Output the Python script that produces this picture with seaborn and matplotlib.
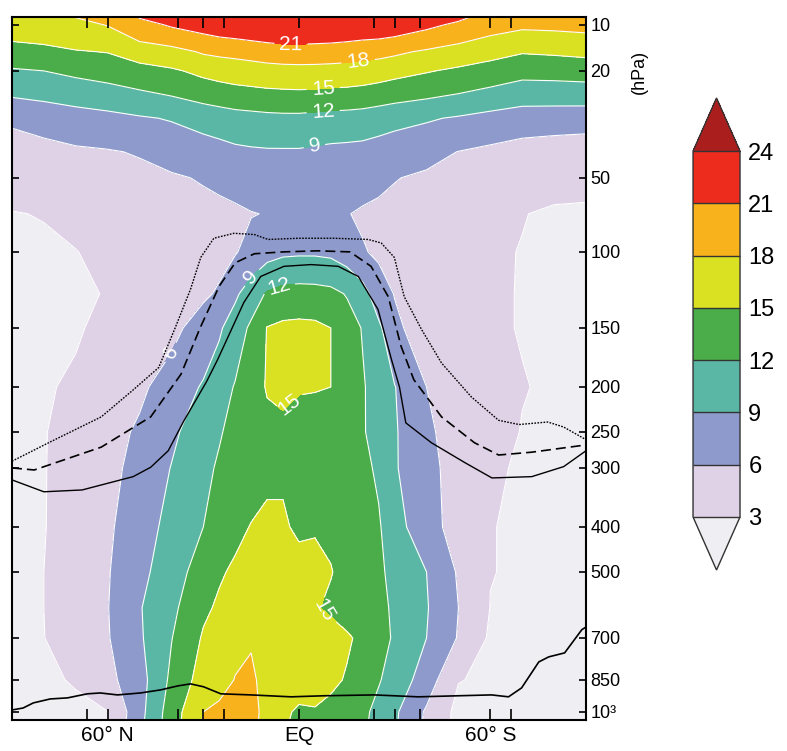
import numpy as np
import matplotlib
matplotlib.use("Agg")
from matplotlib import pyplot as plt
from matplotlib.ticker import FixedLocator, FixedFormatter, NullFormatter
import seaborn as sns

# ------------------------------------------------------------
#     values
# ------------------------------------------------------------

lats = [90, 80, 70, 60, 50, 40, 30, 25, 20, 15, 10, 5, 0, -5, -10, -15, -20, -25, -30, -40, -50, -60, -70, -80, -90]
plevs = [9, 10, 15, 20, 30, 40, 50, 70, 100, 125, 150, 200, 250, 300, 400, 500, 600, 700, 850, 1000, 1050]

# one row per pressure level, one column per latitude (90N ... 90S)
field = [
    [17.4, 17.8, 18.0, 18.9, 21.1, 22.3, 23.0, 23.4, 23.6, 23.7, 23.8, 23.8, 23.8, 23.8, 23.8, 23.7, 23.7, 23.6, 23.4, 22.7, 21.5, 19.9, 19.3, 19.4, 19.6],
    [16.7, 17.0, 17.3, 18.1, 20.0, 21.3, 22.1, 22.6, 22.9, 23.2, 23.4, 23.5, 23.5, 23.5, 23.4, 23.2, 23.0, 22.9, 22.6, 21.6, 20.5, 19.1, 18.5, 18.6, 18.8],
    [13.7, 14.1, 14.8, 15.1, 16.5, 17.0, 18.3, 18.6, 18.8, 19.1, 19.5, 19.8, 19.8, 19.7, 19.6, 19.4, 19.1, 18.9, 18.5, 17.6, 16.7, 16.0, 15.2, 15.4, 15.7],
    [11.7, 12.0, 12.6, 13.1, 13.8, 14.6, 15.7, 16.1, 16.4, 16.6, 16.8, 16.9, 17.0, 17.0, 16.9, 16.8, 16.6, 16.3, 15.9, 15.2, 14.5, 13.7, 12.9, 13.0, 13.2],
    [6.4, 7.0, 7.6, 8.1, 8.7, 9.2, 10.0, 10.4, 10.8, 11.0, 11.2, 11.3, 11.3, 11.1, 10.9, 10.8, 10.6, 10.2, 9.8, 9.3, 8.7, 8.0, 7.4, 7.3, 7.2],
    [4.9, 5.2, 5.6, 5.8, 6.2, 7.0, 7.7, 8.0, 8.4, 8.6, 8.7, 8.7, 8.7, 8.5, 8.3, 8.2, 8.1, 7.8, 7.5, 6.8, 5.95, 5.4, 4.9, 4.6, 4.4],
    [4.0, 4.4, 4.8, 5.0, 5.3, 5.7, 6.2, 6.4, 6.6, 7.2, 7.3, 7.6, 7.8, 7.7, 7.5, 7.0, 6.9, 6.5, 6.1, 5.6, 5.2, 4.8, 4.5, 4.0, 3.9],
    [2.9, 3.1, 3.5, 4.1, 4.4, 4.8, 5.2, 5.5, 5.7, 5.9, 6.1, 7.0, 7.2, 7.2, 7.0, 6.1, 5.7, 5.5, 5.3, 4.8, 4.4, 4.0, 3.1, 2.6, 2.5],
    [2.3, 2.6, 2.95, 3.5, 4.0, 4.5, 5.0, 5.3, 5.8, 7.0, 8.0, 8.5, 8.6, 8.6, 8.4, 7.6, 6.2, 5.6, 5.2, 4.5, 3.8, 3.4, 2.9, 2.6, 2.4],
    [2.2, 2.4, 2.7, 3.1, 4.0, 4.7, 5.6, 6.3, 8.5, 10.5, 12.3, 13.0, 13.2, 13.1, 12.8, 11.8, 10.2, 7.2, 5.9, 4.9, 4.2, 3.3, 2.9, 2.6, 2.4],
    [2.2, 2.4, 2.8, 3.5, 4.4, 5.3, 7.2, 8.6, 10.5, 12.5, 15.1, 15.6, 15.7, 15.6, 15.0, 13.5, 11.8, 9.6, 6.6, 4.5, 3.9, 3.3, 2.9, 2.6, 2.4],
    [2.4, 2.8, 3.3, 4.5, 5.5, 7.2, 9.3, 10.7, 12.2, 13.8, 15.2, 15.3, 15.1, 15.1, 15.0, 13.6, 12.3, 10.5, 9.1, 6.0, 4.6, 3.6, 3.1, 2.7, 2.5],
    [2.4, 2.9, 3.8, 5.0, 6.4, 8.4, 10.7, 11.8, 12.7, 13.5, 14.3, 14.7, 14.5, 14.2, 13.8, 13.0, 12.3, 10.6, 9.3, 6.4, 5.0, 4.0, 2.9, 2.6, 2.5],
    [2.4, 2.9, 4.0, 5.3, 6.8, 9.1, 11.4, 12.3, 13.2, 14.0, 14.6, 14.7, 14.4, 14.3, 14.0, 13.4, 12.6, 11.6, 9.3, 6.6, 5.2, 3.4, 2.7, 2.6, 2.5],
    [2.4, 2.9, 4.2, 5.6, 7.5, 10.0, 12.0, 13.2, 14.4, 15.1, 15.4, 15.3, 14.6, 14.8, 14.6, 13.9, 13.2, 12.3, 10.2, 7.0, 5.0, 3.05, 2.8, 2.6, 2.5],
    [2.4, 3.0, 4.4, 5.8, 8.2, 10.6, 13.4, 14.7, 15.4, 15.8, 16.0, 16.0, 15.9, 15.7, 15.1, 14.3, 13.4, 12.5, 11.2, 9.0, 5.7, 3.05, 2.8, 2.6, 2.5],
    [2.4, 3.0, 4.5, 5.9, 8.8, 11.3, 14.5, 15.4, 16.0, 16.3, 16.4, 16.3, 15.8, 15.2, 14.6, 14.0, 13.3, 12.5, 11.7, 9.2, 6.0, 2.95, 2.8, 2.6, 2.5],
    [2.4, 2.95, 4.5, 5.8, 8.6, 11.9, 15.3, 16.3, 17.3, 17.8, 17.2, 16.8, 16.5, 16.4, 16.0, 15.3, 14.5, 12.6, 11.8, 9.0, 5.8, 2.6, 2.6, 2.6, 2.5],
    [2.3, 2.6, 3.2, 5.2, 7.8, 12.6, 16.3, 17.0, 18.1, 18.4, 17.2, 16.5, 16.2, 16.0, 15.5, 14.8, 13.8, 12.2, 10.9, 7.5, 3.1, 2.6, 2.5, 2.5, 2.4],
    [2.0, 2.2, 2.5, 2.95, 8.0, 13.5, 18.0, 18.6, 18.8, 18.5, 17.5, 15.5, 14.6, 14.8, 14.3, 13.6, 12.6, 11.2, 9.5, 5.6, 2.2, 2.5, 2.4, 2.4, 2.4],
    [2.0, 2.2, 2.5, 2.95, 8.2, 13.6, 18.2, 18.7, 18.9, 18.5, 17.4, 15.3, 14.5, 14.7, 14.2, 13.5, 12.5, 11.1, 9.4, 5.5, 2.2, 2.4, 2.4, 2.4, 2.4],
]

levels = [3, 6, 9, 12, 15, 18, 21, 24]
colors = ["#efeff3", "#dfd1e6", "#8e9acc", "#5bb7a5", "#4aad4a",
          "#dae022", "#f8b21c", "#ee2c1e", "#aa1e1e"]

# black outlines (latitude, pressure)
upper_lat = [90, 78, 62, 52, 44, 39, 34, 30.8, 26.7, 20.4, 14, 9.7, 0, -11, -21.7, -25.8, -29.9, -33, -38.4, -44.7, -54, -62.6, -69, -78, -83, -90]
upper_p = [290, 263, 232, 203, 182, 151, 122, 103, 88, 84, 85, 89, 88, 88, 89, 92, 103, 127, 151, 178, 210, 236, 241, 238, 244, 260]

middle_lat = [90, 83, 62, 46.5, 37, 31, 25, 20, 14, 5, -6, -16, -22.6, -28, -32, -36, -44.7, -55, -62.6, -73, -90]
middle_p = [300, 303, 270, 232, 188, 150, 120, 106, 101, 100, 99, 100, 108, 127, 164, 193, 232, 264, 281, 277, 267]

lower_lat = [90, 80, 68, 52, 46.5, 41, 36, 29, 25.5, 17.3, 12, 4.7, -3.8, -12.3, -18.6, -24.8, -29, -31.5, -33.5, -41.5, -52, -60.5, -73, -83, -90]
lower_p = [318, 337, 334, 313, 299, 275, 236, 195, 175, 131, 114, 108, 107, 108, 114, 136, 175, 200, 239, 264, 292, 315, 313, 298, 275]

surf_lat = [90, 86.5, 83.3, 78, 72.6, 66.4, 62.3, 56.9, 49.7, 43.4, 38, 34, 29.9, 24.5, 15.1, 2.5, -7.9, -23.6, -37.4, -50, -60.4, -65.7, -69.8, -75.2, -78.3, -83.3, -88.7, -90]
surf_p = [990, 980, 955, 936, 931, 912, 908, 917, 908, 894, 876, 867, 880, 912, 917, 926, 921, 917, 926, 921, 917, 926, 885, 782, 764, 750, 671, 662]

ytick_vals = [10, 20, 50, 100, 150, 200, 250, 300, 400, 500, 700, 850, 1000]
ytick_text = ["10", "20", "50", "100", "150", "200", "250", "300", "400", "500", "700", "850", "10³"]
xtick_vals = [60, 0, -60]
xtick_text = ["60° N", "EQ", "60° S"]
xminor_vals = [66.5, 38, 30, 23.5, -23.5, -30, -38, -66.5]

# where the labels of the contour lines sit (latitude, pressure)
label_spots = [(2.5, 13.5), (-18.6, 17.5), (-7.5, 22.5), (-7.5, 27.5), (-4.7, 37),
               (16, 112), (6.6, 119), (3.5, 216), (38.7, 171), (-2.8, 670)]

# ------------------------------------------------------------
#     vertical axis: model-level like spacing (taken from the tick spacing)
# ------------------------------------------------------------

_logk = np.log10([8.5, 10, 20, 50, 100, 150, 200, 250, 300, 400, 500, 700, 850, 1000, 1100])
_levk = np.array([14, 25, 71, 178, 252, 328, 387, 432, 468, 527, 572, 638, 680, 712, 731], dtype=float)

def p_forward(p):
    p = np.clip(np.asarray(p, dtype=float), 1e-3, None)
    return np.interp(np.log10(p), _logk, _levk)

def p_inverse(v):
    return 10 ** np.interp(np.asarray(v, dtype=float), _levk, _logk)

# ------------------------------------------------------------
#     plot
# ------------------------------------------------------------

sns.set_theme(style="ticks")
plt.rcParams["font.family"] = ["Liberation Sans", "DejaVu Sans"]
plt.rcParams["text.color"] = "black"
plt.rcParams["xtick.color"] = "black"
plt.rcParams["ytick.color"] = "black"
plt.rcParams["axes.edgecolor"] = "black"

fig = plt.figure(figsize=(7.87, 7.51), dpi=100)
ax = fig.add_axes([0.0152, 0.0413, 0.7294, 0.9361])
ax.set_yscale("function", functions=(p_forward, p_inverse))
ax.set_axisbelow(False)

X, Y = np.meshgrid(lats, plevs)
Z = np.array(field)

cf = ax.contourf(X, Y, Z, levels=levels, colors=colors, extend="both", zorder=1)
cl = ax.contour(X, Y, Z, levels=levels, colors="white", linewidths=0.8, zorder=2)
ax.clabel(cl, manual=label_spots, inline=True, fontsize=15, colors="white", fmt="%d")

sns.lineplot(x=upper_lat, y=upper_p, sort=False, estimator=None, color="black",
             lw=1.0, linestyle=(0, (1.2, 1.0)), ax=ax, zorder=4)
sns.lineplot(x=middle_lat, y=middle_p, sort=False, estimator=None, color="black",
             lw=1.2, linestyle=(0, (6, 3)), ax=ax, zorder=4)
sns.lineplot(x=lower_lat, y=lower_p, sort=False, estimator=None, color="black",
             lw=1.0, ax=ax, zorder=4)
sns.lineplot(x=surf_lat, y=surf_p, sort=False, estimator=None, color="black",
             lw=1.2, ax=ax, zorder=4)

ax.set_xlim(90, -90)
ax.set_ylim(1041, 8.9)
ax.set_xlabel("")
ax.set_ylabel("")

ax.xaxis.set_major_locator(FixedLocator(xtick_vals))
ax.xaxis.set_major_formatter(FixedFormatter(xtick_text))
ax.xaxis.set_minor_locator(FixedLocator(xminor_vals))
ax.yaxis.set_major_locator(FixedLocator(ytick_vals))
ax.yaxis.set_major_formatter(FixedFormatter(ytick_text))
ax.yaxis.set_minor_locator(FixedLocator([100, 500, 1000]))
ax.yaxis.set_minor_formatter(NullFormatter())

ax.tick_params(axis="x", which="both", direction="in", top=True, bottom=True,
               length=8, width=1.2, labelsize=15, pad=4, color="black", labelcolor="black")
ax.tick_params(axis="y", which="major", direction="in", left=True, right=True,
               labelleft=False, labelright=True, length=5, width=1.2,
               labelsize=13, pad=3, color="black", labelcolor="black")
ax.tick_params(axis="y", which="minor", direction="in", left=True, right=True,
               length=16, width=1.2, color="black")
for side in ax.spines.values():
    side.set_color("black")
    side.set_linewidth(1.5)
    side.set_zorder(6)

fig.text(0.813, 0.904, "(hPa)", rotation=90, fontsize=13, ha="center", va="center",
         color="black")

# colorbar
cax = fig.add_axes([0.8806, 0.241, 0.0597, 0.6285])
cb = fig.colorbar(cf, cax=cax, extendfrac=0.145, drawedges=True, ticks=levels)
cb.outline.set_edgecolor("#333333")
cb.outline.set_linewidth(1.0)
cb.dividers.set_color("#333333")
cb.dividers.set_linewidth(1.0)
cb.ax.tick_params(length=0, labelsize=17, pad=6, labelcolor="black")

plt.savefig("out.png", dpi=100)
